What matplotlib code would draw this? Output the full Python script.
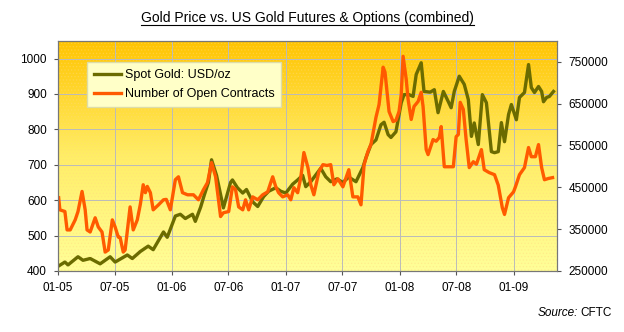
import numpy as np
import pandas as pd
import matplotlib
matplotlib.use("Agg")
import matplotlib.pyplot as plt
import matplotlib.dates as mdates
from matplotlib.colors import LinearSegmentedColormap
from matplotlib.patches import Rectangle

plt.rcParams['font.family'] = ['Liberation Sans', 'DejaVu Sans']
plt.rcParams['hatch.linewidth'] = 0.6

# spot gold, USD/oz
gold_dates = ["2005-01-03", "2005-01-23", "2005-02-02", "2005-03-06", "2005-03-22", "2005-04-14",
              "2005-05-16", "2005-06-17", "2005-07-03", "2005-08-11", "2005-08-27", "2005-09-22",
              "2005-10-17", "2005-11-02", "2005-12-05", "2005-12-17", "2006-01-12", "2006-01-28",
              "2006-02-13", "2006-03-08", "2006-03-17", "2006-04-03", "2006-04-15", "2006-04-28",
              "2006-05-08", "2006-05-24", "2006-06-15", "2006-07-08", "2006-07-14", "2006-07-30",
              "2006-08-16", "2006-08-28", "2006-09-17", "2006-10-03", "2006-10-22", "2006-11-07",
              "2006-11-30", "2006-12-16", "2007-01-01", "2007-01-23", "2007-02-08", "2007-02-24",
              "2007-03-06", "2007-03-22", "2007-04-23", "2007-05-09", "2007-05-25", "2007-06-14",
              "2007-07-03", "2007-07-22", "2007-08-14", "2007-09-05", "2007-09-15", "2007-10-01",
              "2007-10-17", "2007-11-02", "2007-11-12", "2007-11-25", "2007-12-04", "2007-12-20",
              "2008-01-06", "2008-01-15", "2008-01-31", "2008-02-13", "2008-02-23", "2008-03-10",
              "2008-03-19", "2008-04-08", "2008-04-21", "2008-05-03", "2008-05-20", "2008-06-05",
              "2008-06-14", "2008-06-24", "2008-07-10", "2008-07-26", "2008-08-08", "2008-08-18",
              "2008-08-27", "2008-09-09", "2008-09-22", "2008-10-05", "2008-10-21", "2008-10-31",
              "2008-11-12", "2008-11-22", "2008-12-02", "2008-12-15", "2008-12-24", "2009-01-09",
              "2009-01-19", "2009-02-04", "2009-02-17", "2009-02-26", "2009-03-08", "2009-03-21",
              "2009-03-31", "2009-04-06", "2009-04-16", "2009-04-25", "2009-05-08"]
gold_price = [414, 425, 417, 440, 430, 435,
              420, 440, 425, 445, 435, 455,
              470, 460, 510, 495, 555, 560,
              548, 560, 540, 580, 615, 650,
              714, 670, 578, 650, 657, 635,
              620, 630, 595, 582, 610, 625,
              635, 625, 620, 645, 657, 670,
              638, 652, 690, 666, 652, 660,
              650, 665, 652, 692, 720, 757,
              770, 813, 820, 785, 777, 793,
              875, 898, 898, 893, 955, 988,
              907, 905, 912, 847, 907, 878,
              861, 907, 950, 927, 884, 780,
              818, 757, 898, 875, 737, 734,
              737, 819, 765, 842, 870, 827,
              890, 904, 983, 918, 904, 921,
              907, 878, 890, 893, 907]

# open contracts, US gold futures & options combined
oi_dates = ["2005-01-03", "2005-01-07", "2005-01-23", "2005-01-30", "2005-02-09", "2005-02-25",
            "2005-03-06", "2005-03-19", "2005-03-29", "2005-04-04", "2005-04-14", "2005-04-30",
            "2005-05-10", "2005-05-22", "2005-06-01", "2005-06-11", "2005-06-24", "2005-07-03",
            "2005-07-13", "2005-07-19", "2005-07-29", "2005-08-04", "2005-08-20", "2005-08-30",
            "2005-09-12", "2005-09-22", "2005-10-01", "2005-10-08", "2005-10-14", "2005-10-24",
            "2005-11-02", "2005-11-19", "2005-12-05", "2005-12-14", "2005-12-27", "2006-01-12",
            "2006-01-22", "2006-02-04", "2006-02-20", "2006-03-11", "2006-03-27", "2006-04-12",
            "2006-04-25", "2006-05-08", "2006-05-21", "2006-06-06", "2006-06-15", "2006-07-02",
            "2006-07-14", "2006-07-24", "2006-08-03", "2006-08-16", "2006-08-25", "2006-09-04",
            "2006-09-17", "2006-10-03", "2006-10-19", "2006-11-04", "2006-11-20", "2006-11-30",
            "2006-12-09", "2006-12-22", "2007-01-07", "2007-01-17", "2007-01-27", "2007-02-08",
            "2007-02-18", "2007-02-28", "2007-03-13", "2007-03-22", "2007-04-01", "2007-04-17",
            "2007-04-30", "2007-05-13", "2007-05-25", "2007-06-04", "2007-06-17", "2007-07-03",
            "2007-07-13", "2007-07-22", "2007-08-04", "2007-08-20", "2007-08-30", "2007-09-09",
            "2007-09-21", "2007-10-01", "2007-10-17", "2007-10-27", "2007-11-09", "2007-11-15",
            "2007-11-28", "2007-12-11", "2007-12-20", "2007-12-30", "2008-01-06", "2008-01-12",
            "2008-01-22", "2008-01-28", "2008-02-07", "2008-02-16", "2008-02-29", "2008-03-10",
            "2008-03-16", "2008-03-26", "2008-04-01", "2008-04-17", "2008-04-27", "2008-05-07",
            "2008-05-13", "2008-05-23", "2008-06-08", "2008-06-21", "2008-06-30", "2008-07-07",
            "2008-07-13", "2008-07-23", "2008-08-01", "2008-08-11", "2008-08-24", "2008-09-03",
            "2008-09-19", "2008-09-28", "2008-10-14", "2008-10-31", "2008-11-12", "2008-11-25",
            "2008-12-02", "2008-12-15", "2008-12-31", "2009-01-06", "2009-01-19", "2009-02-04",
            "2009-02-17", "2009-02-26", "2009-03-11", "2009-03-21", "2009-03-31", "2009-04-09",
            "2009-04-22", "2009-05-05"]
open_contracts = [425000, 396000, 392000, 348000, 348000, 372000,
                  392000, 440000, 396000, 348000, 343000, 377000,
                  355000, 343000, 295000, 300000, 372000, 355000,
                  331000, 330000, 295000, 300000, 403000, 348000,
                  372000, 410000, 456000, 437000, 452000, 437000,
                  396000, 408000, 420000, 421000, 396000, 468000,
                  475000, 437000, 432000, 432000, 420000, 444000,
                  461000, 509000, 475000, 380000, 389000, 392000,
                  451000, 444000, 403000, 396000, 420000, 396000,
                  427000, 420000, 432000, 439000, 475000, 451000,
                  437000, 427000, 432000, 420000, 449000, 437000,
                  473000, 533000, 497000, 456000, 432000, 487000,
                  504000, 502000, 504000, 456000, 470000, 451000,
                  473000, 492000, 427000, 427000, 408000, 504000,
                  535000, 552000, 617000, 648000, 737000, 725000,
                  631000, 607000, 610000, 631000, 672000, 763000,
                  708000, 660000, 612000, 643000, 655000, 677000,
                  643000, 540000, 528000, 564000, 560000, 569000,
                  595000, 499000, 499000, 499000, 571000, 576000,
                  653000, 636000, 564000, 497000, 511000, 505000,
                  540000, 492000, 485000, 480000, 455000, 401000,
                  385000, 425000, 439000, 451000, 480000, 497000,
                  545000, 523000, 523000, 552000, 497000, 468000,
                  471000, 473000]

tick_dates = ["2005-01-01", "2005-07-01", "2006-01-01", "2006-07-01", "2007-01-01",
              "2007-07-01", "2008-01-01", "2008-07-01", "2009-01-01"]

gx = pd.to_datetime(gold_dates)
ox = pd.to_datetime(oi_dates)
tx = pd.to_datetime(tick_dates)

fig = plt.figure(figsize=(6.24, 3.32), dpi=100)
ax = fig.add_axes([0.093, 0.184, 0.8, 0.693])
ax2 = ax.twinx()

# gradient background with a fine dot texture
cmap = LinearSegmentedColormap.from_list("bg", ["#FFFF99", "#FFEE66", "#FFC400"])
grad = np.linspace(0, 1, 256).reshape(-1, 1)
ax.imshow(grad, aspect='auto', cmap=cmap, origin='lower', extent=[0, 1, 0, 1],
          transform=ax.transAxes, zorder=0)
ax.add_patch(Rectangle((0, 0), 1, 1, transform=ax.transAxes, fill=False, hatch='.....',
                       edgecolor=(1, 0.85, 0.5, 0.35), lw=0, zorder=0.5))

ax.set_xlim(pd.Timestamp("2005-01-01"), pd.Timestamp("2009-05-20"))
ax.set_ylim(400, 1050)
ax2.set_ylim(250000, 800000)

ax.set_yticks(range(400, 1001, 100))
ax2.set_yticks(range(250000, 750001, 100000))
ax.set_xticks(tx)
ax.xaxis.set_major_formatter(mdates.DateFormatter("%m-%y"))

ax.grid(True, color="#BBBBBB", lw=0.7, zorder=1)

l1, = ax.plot(gx, gold_price, color="#6B6B00", lw=2.4, zorder=3, label="Spot Gold: USD/oz")
l2, = ax2.plot(ox, open_contracts, color="#FF5A00", lw=2.4, zorder=2, label="Number of Open Contracts")

for a in (ax, ax2):
    a.tick_params(labelsize=8.5, length=3, color="#555555", pad=5)
    for s in a.spines.values():
        s.set_color("#777777")
        s.set_linewidth(0.8)

leg = ax2.legend(handles=[l1, l2], loc="upper left", bbox_to_anchor=(0.045, 0.935),
                 fontsize=9, frameon=True, fancybox=False, handlelength=2.2,
                 borderpad=0.55, labelspacing=0.6, handletextpad=0.3)
leg.get_frame().set_facecolor("#FFFFC8")
leg.get_frame().set_edgecolor("#DDDDAA")
leg.get_frame().set_alpha(1)

title = fig.text(0.493, 0.945, "Gold Price vs. US Gold Futures & Options (combined)",
                 ha="center", va="center", fontsize=10)
fig.text(0.926, 0.057, "Source:", ha="right", va="center", fontsize=8.5, style="italic")
fig.text(0.93, 0.057, "CFTC", ha="left", va="center", fontsize=8.5)

# underline the title
fig.canvas.draw()
bb = title.get_window_extent().transformed(fig.transFigure.inverted())
fig.add_artist(plt.Line2D([bb.x0, bb.x1], [bb.y0 + 0.002, bb.y0 + 0.002], color="black",
                          lw=0.8, transform=fig.transFigure))

fig.savefig("out.png", dpi=100)
